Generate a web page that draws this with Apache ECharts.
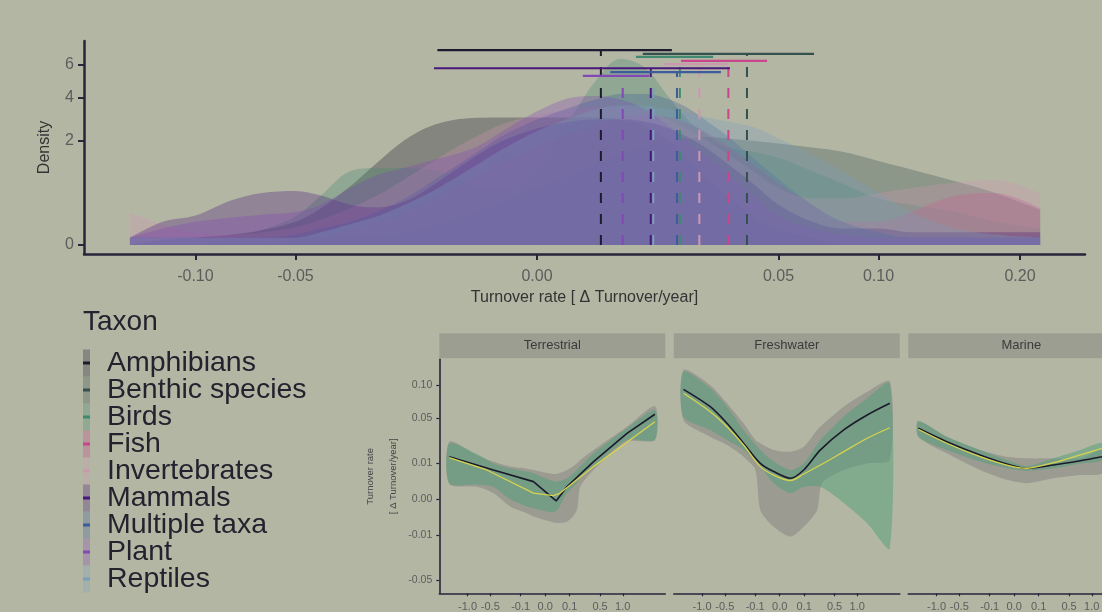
<!DOCTYPE html>
<html><head><meta charset="utf-8">
<script src="https://cdn.jsdelivr.net/npm/echarts@6.0.0/dist/echarts.min.js"></script>
<style>html,body{margin:0;padding:0;background:#b4b6a4}#c{width:1102px;height:612px}</style>
</head><body><div id="c"></div><script>
// ---------- data ----------
const taxa = ['Amphibians','Benthic species','Birds','Fish','Invertebrates','Mammals','Multiple taxa','Plant','Reptiles'];
const taxonColors = ['#1e1b2e','#34514f','#3f8a6e','#c8468a','#cc98b0','#48187a','#3d5c9c','#8248b4','#7a9ebc'];

// density curves (turnover rate grid, density values)
const densX = [-0.142,-0.12,-0.10,-0.08,-0.065,-0.05,-0.04,-0.03,-0.022,-0.015,-0.01,-0.006,-0.003,-0.001,0,0.001,0.003,0.006,0.01,0.015,0.02,0.025,0.03,0.04,0.05,0.065,0.08,0.10,0.12,0.15,0.18,0.217];
const densAmphibians = [0,0.005,0.01,0.02,0.04,0.1,0.25,0.63,1.24,2.03,2.58,2.88,2.98,3.0,3.0,3.0,3.0,2.9,2.6,2.0,1.3,0.8,0.5,0.15,0.05,0.01,0,0,0,0,0,0];
const densBenthic    = [0,0,0,0,0,0.005,0.01,0.01,0.01,0.03,0.06,0.12,0.2,0.35,0.6,0.9,1.2,1.5,1.8,2.0,2.1,2.15,2.1,2.0,1.9,1.75,1.6,1.3,1.05,0.75,0.5,0.23];
const densBirds      = [0,0,0,0.01,0.04,0.15,0.45,1.0,1.09,1.09,1.05,0.9,0.6,0.55,1.2,3.0,5.0,6.4,5.8,4.0,2.8,2.2,1.8,1.6,1.4,1.0,0.7,0.4,0.3,0.2,0.1,0.05];
const densFish       = [0.01,0.01,0.01,0.01,0.01,0.01,0.01,0.05,0.1,0.2,0.35,0.6,0.9,1.3,1.8,2.3,2.7,3.0,3.1,3.0,2.7,2.3,1.9,1.2,0.7,0.3,0.1,0.1,0.2,0.45,0.5,0.25];
const densInvert     = [0.19,0.08,0.03,0.02,0.03,0.06,0.12,0.25,0.45,0.8,1.2,1.7,2.2,2.7,3.1,3.4,3.5,3.5,3.3,2.9,2.4,2.0,1.6,1.0,0.6,0.4,0.4,0.5,0.6,0.72,0.78,0.5];
const densMammals    = [0.01,0.1,0.16,0.37,0.5,0.54,0.45,0.3,0.26,0.35,0.6,1.0,1.5,2.0,2.5,2.8,2.9,2.9,2.8,2.5,2.1,1.7,1.3,0.7,0.3,0.1,0.05,0.05,0.03,0.03,0.03,0.03];
const densMultiple   = [0.01,0.01,0.01,0.01,0.01,0.02,0.05,0.1,0.2,0.4,0.7,1.1,1.6,2.2,2.9,3.5,3.9,4.2,4.2,3.9,3.4,2.8,2.3,1.4,0.8,0.3,0.1,0.03,0.01,0.01,0.01,0.01];
const densPlant      = [0.01,0.05,0.1,0.14,0.17,0.2,0.3,0.6,0.9,1.1,1.3,1.5,1.8,2.4,3.3,4.0,4.1,3.9,3.4,2.6,1.9,1.4,1.0,0.45,0.15,0.05,0.02,0.01,0.01,0.01,0.01,0.01];
const densReptiles   = [0.01,0.01,0.01,0.01,0.01,0.01,0.03,0.08,0.15,0.3,0.5,0.8,1.2,1.7,2.4,3.0,3.4,3.6,3.6,3.4,3.2,3.0,2.85,2.57,2.1,1.5,1.0,0.5,0.2,0.05,0.02,0.01];
const densities = [densAmphibians,densBenthic,densBirds,densFish,densInvert,densMammals,densMultiple,densPlant,densReptiles];

// medians and intervals (turnover rate); level = density height of interval bar
const medians = [0.0035,0.0378,0.0175,0.0314,0.0226,0.0111,0.0168,0.0063,0.0116];
const ciLower = [-0.0085,0.0096,0.0084,0.0178,0.0138,-0.0091,0.0046,0.0018,null];
const ciUpper = [0.0156,0.0658,0.0266,0.0454,0.0313,0.0319,0.0290,0.0108,null];
const ciLevel = [7.0,6.73,6.52,6.25,6.03,5.76,5.51,5.27,5.0];

const topXTicks = [-0.10,-0.05,0,0.05,0.10,0.20];
const topYTicks = [0,2,4,6];

// facets
const facetNames = ['Terrestrial','Freshwater','Marine'];
const facetXTicks = [-1.0,-0.5,-0.1,0,0.1,0.5,1.0];
const facetYTicks = [-0.05,-0.01,0,0.01,0.05,0.10];

const terrX       = [-1.525,-0.776,-0.445,-0.204,-0.0557,-0.0228,0.0166,0.0784,0.167,0.204,0.389,1.111,2.0];
const terrGreyHi  = [0.0255,0.0151,0.0109,0.0082,0.0072,0.0066,0.0049,0.0066,0.0099,0.0119,0.0187,0.0404,0.0668];
const terrGreyLo  = [0.0018,0.0012,0.0003,-0.0004,-0.0015,-0.0023,-0.0042,-0.0039,-0.0009,0.0012,0.0066,0.0255,0.027];
const terrGreenHi = [0.0241,0.0157,0.0099,0.0074,0.0059,0.0052,0.0024,0.0034,0.0066,0.0082,0.0162,0.0387,0.0612];
const terrGreenLo = [0.0020,0.0016,0.0012,0.0000,-0.0004,-0.0006,-0.0012,0.0003,0.0020,0.0039,0.0082,0.027,0.027];
const terrMeanX   = [-1.525,-0.445,-0.0228,0.0201,0.0784,0.389,1.111,2.0];
const terrMean    = [0.0139,0.0066,0.0024,-0.00002,0.0012,0.0109,0.0334,0.0555];
const terrFitX    = [-1.525,-0.566,-0.0228,0.0115,0.0375,0.389,2.0];
const terrFit     = [0.0133,0.0066,0.0003,0.0001,0.0003,0.0082,0.0462];

const fwX       = [-1.535,-0.8,-0.461,-0.216,-0.062,-0.006,0.019,0.096,0.276,0.682,1.272,2.015];
const fwMean    = [0.0928,0.0658,0.0443,0.0241,0.0099,0.0059,0.0034,0.0066,0.0187,0.0369,0.0545,0.0707];
const fwFit     = [0.0862,0.0589,0.0404,0.0226,0.0082,0.0045,0.0027,0.0049,0.009,0.0174,0.0286,0.0393];
const fwGreenHi = [0.125,0.0945,0.0658,0.0369,0.0187,0.0109,0.0066,0.0099,0.027,0.0524,0.0783,0.1032];
const fwGreenLo = [0.0524,0.0369,0.027,0.0187,0.0082,0.002,0.0003,0.0012,0.0012,-0.0001,-0.0044,-0.0184];
const fwGreyX   = [-1.535,-0.8,-0.461,-0.216,-0.098,-0.062,-0.006,0.019,0.096,0.233,0.299,0.682,1.272,2.015];
const fwGreyHi  = [0.1283,0.1002,0.0707,0.0443,0.027,0.0241,0.0187,0.0174,0.0212,0.0369,0.0424,0.0658,0.0888,0.1061];
const fwGreyLo  = [0.0483,0.0301,0.0226,0.0139,0.0066,-0.0009,-0.0058,-0.0107,-0.0058,-0.0009,0.002,0.0066,0.0099,0.0119];

const mX       = [-1.525,-0.754,-0.193,-0.0089,0.0269,0.257,0.725,1.289];
const mMean    = [0.0387,0.0255,0.0151,0.0096,0.0074,0.009,0.0114,0.0139];
const mFit     = [0.0376,0.0241,0.0139,0.009,0.0074,0.0103,0.0151,0.02];
const mGreenHi = [0.047,0.0301,0.0187,0.0119,0.0085,0.0129,0.0187,0.0241];
const mGreenLo = [0.0301,0.0187,0.0109,0.0074,0.0063,0.0074,0.0099,0.0119];
const mGreyHi  = [0.047,0.0301,0.0187,0.0139,0.0129,0.0129,0.0129,0.0187];
const mGreyLo  = [0.0301,0.0162,0.0066,0.0029,0.002,0.0034,0.0045,0.0052];

// ---------- helpers ----------
const ssqrt = v => Math.sign(v) * Math.sqrt(Math.abs(v));
const inv = t => Math.sign(t) * t * t;
function hexA(h, a) {
  const n = parseInt(h.slice(1), 16);
  return 'rgba(' + (n >> 16 & 255) + ',' + (n >> 8 & 255) + ',' + (n & 255) + ',' + a + ')';
}
const FONT = 'Liberation Sans, Arial, Helvetica, sans-serif';
const AXIS = '#27253a';
const LABEL = '#5c5c5c';

const chart = echarts.init(document.getElementById('c'), null, {renderer: 'canvas'});

const facetLeft = [439.3, 673.8, 908.3];
const grids = [{left: 84, right: 17, top: 41, bottom: 358, outerBoundsMode: 'none'}];
facetLeft.forEach(l => grids.push({left: l, width: 226, top: 359.3, height: 234, outerBoundsMode: 'none'}));

const xAxes = [{
  type: 'value', gridIndex: 0, min: -0.4194, max: 0.5074,
  axisLine: {show: true, onZero: false, lineStyle: {color: AXIS, width: 2.5}},
  axisTick: {show: true, customValues: topXTicks.map(ssqrt), length: 6, lineStyle: {color: AXIS, width: 2}},
  axisLabel: {customValues: topXTicks.map(ssqrt), formatter: v => inv(v).toFixed(2), fontSize: 16, color: LABEL, margin: 15, fontFamily: FONT},
  splitLine: {show: false},
  name: 'Turnover rate [ \u0394 Turnover/year]', nameLocation: 'middle', nameGap: 36,
  nameTextStyle: {fontSize: 16, color: '#333', fontFamily: FONT}
}];
const yAxes = [{
  type: 'value', gridIndex: 0, min: -0.122, max: 2.77,
  axisLine: {show: true, onZero: false, lineStyle: {color: AXIS, width: 2.5}},
  axisTick: {show: true, customValues: topYTicks.map(Math.sqrt), length: 6, lineStyle: {color: AXIS, width: 2}},
  axisLabel: {customValues: topYTicks.map(Math.sqrt), formatter: v => String(Math.round(v * v)), fontSize: 16, color: LABEL, margin: 10, fontFamily: FONT},
  splitLine: {show: false},
  name: 'Density', nameLocation: 'middle', nameGap: 31, nameRotate: 90,
  nameTextStyle: {fontSize: 16, color: '#333', fontFamily: FONT}
}];
for (let i = 0; i < 3; i++) {
  xAxes.push({
    type: 'value', gridIndex: i + 1, min: -1.364, max: 1.548,
    axisLine: {show: true, onZero: false, lineStyle: {color: AXIS, width: 1.6}},
    axisTick: {show: true, customValues: facetXTicks.map(ssqrt), length: 3, lineStyle: {color: AXIS, width: 1.2}},
    axisLabel: {customValues: facetXTicks.map(ssqrt), formatter: v => inv(v).toFixed(1), fontSize: 11, color: LABEL, margin: 8, fontFamily: FONT},
    splitLine: {show: false}
  });
  yAxes.push({
    type: 'value', gridIndex: i + 1, min: -0.2604, max: 0.3878,
    axisLine: {show: i === 0, onZero: false, lineStyle: {color: AXIS, width: 1.6}},
    axisTick: {show: i === 0, customValues: facetYTicks.map(ssqrt), length: 3, lineStyle: {color: AXIS, width: 1.2}},
    axisLabel: {show: i === 0, customValues: facetYTicks.map(ssqrt), formatter: v => inv(v).toFixed(2), fontSize: 10.5, color: LABEL, margin: 7, fontFamily: FONT},
    splitLine: {show: false},
    name: i === 0 ? 'Turnover rate\n[ \u0394 Turnover/year]' : '', nameLocation: 'middle', nameGap: 32, nameRotate: 90,
    nameTextStyle: {fontSize: 9.5, lineHeight: 23, color: '#444', fontFamily: FONT}
  });
}

const series = [];
// densities
taxa.forEach((name, i) => {
  series.push({
    name: name, type: 'line', xAxisIndex: 0, yAxisIndex: 0, z: 2,
    data: densX.map((x, k) => [ssqrt(x), Math.sqrt(densities[i][k])]),
    smooth: 0.35, symbol: 'none', showSymbol: false, silent: true,
    lineStyle: {width: 0, color: taxonColors[i]},
    itemStyle: {color: taxonColors[i]},
    areaStyle: {color: taxonColors[i], opacity: 0.31}
  });
});
// intervals and medians
taxa.forEach((name, i) => {
  if (ciLower[i] !== null) {
    series.push({
      type: 'line', xAxisIndex: 0, yAxisIndex: 0, z: 5, silent: true, symbol: 'none',
      data: [[ssqrt(ciLower[i]), Math.sqrt(ciLevel[i])], [ssqrt(ciUpper[i]), Math.sqrt(ciLevel[i])]],
      lineStyle: {color: taxonColors[i], width: 2.2}
    });
  }
  series.push({
    type: 'line', xAxisIndex: 0, yAxisIndex: 0, z: 5, silent: true, symbol: 'none',
    data: [[ssqrt(medians[i]), 0], [ssqrt(medians[i]), Math.sqrt(ciLevel[i])]],
    lineStyle: {color: taxonColors[i], width: 2, type: [10, 11], dashOffset: 0}
  });
});

function bandSeries(gi, xs, lo, hi, fill) {
  return {
    type: 'custom', xAxisIndex: gi, yAxisIndex: gi, silent: true, clip: true, z: 2,
    data: xs.map((x, i) => [ssqrt(x), ssqrt(lo[i]), ssqrt(hi[i])]),
    encode: {x: 0, y: [1, 2]},
    renderItem: function (params, api) {
      if (params.dataIndex !== 0) return;
      const pts = [];
      for (let i = 0; i < xs.length; i++) pts.push(api.coord([ssqrt(xs[i]), ssqrt(hi[i])]));
      for (let i = xs.length - 1; i >= 0; i--) pts.push(api.coord([ssqrt(xs[i]), ssqrt(lo[i])]));
      return {type: 'polygon', shape: {points: pts, smooth: 0.25}, style: {fill: fill}};
    }
  };
}
function curveSeries(gi, xs, ys, color, width, z, smooth) {
  return {
    type: 'line', xAxisIndex: gi, yAxisIndex: gi, z: z, silent: true, symbol: 'none', smooth: smooth,
    data: xs.map((x, i) => [ssqrt(x), ssqrt(ys[i])]),
    lineStyle: {color: color, width: width}
  };
}
const GREY = 'rgba(150,150,143,0.85)';
const GREEN = 'rgba(80,160,120,0.5)';
const MEAN = '#1b1a2b';
const FIT = '#d6d24e';
series.push(bandSeries(1, terrX, terrGreyLo, terrGreyHi, GREY));
series.push(bandSeries(1, terrX, terrGreenLo, terrGreenHi, GREEN));
series.push(curveSeries(1, terrMeanX, terrMean, MEAN, 1.6, 4, 0));
series.push(curveSeries(1, terrFitX, terrFit, FIT, 1.3, 5, 0));
series.push(bandSeries(2, fwGreyX, fwGreyLo, fwGreyHi, GREY));
series.push(bandSeries(2, fwX, fwGreenLo, fwGreenHi, GREEN));
series.push(curveSeries(2, fwX, fwMean, MEAN, 1.6, 4, 0.3));
series.push(curveSeries(2, fwX, fwFit, FIT, 1.3, 5, 0.3));
series.push(bandSeries(3, mX, mGreyLo, mGreyHi, GREY));
series.push(bandSeries(3, mX, mGreenLo, mGreenHi, GREEN));
series.push(curveSeries(3, mX, mMean, MEAN, 1.6, 4, 0.3));
series.push(curveSeries(3, mX, mFit, FIT, 1.3, 5, 0.3));

const graphics = facetNames.map((n, i) => ({
  type: 'group', x: facetLeft[i], y: 333.3, silent: true,
  children: [
    {type: 'rect', shape: {x: 0, y: 0, width: 226, height: 25}, style: {fill: '#9d9e92'}},
    {type: 'text', style: {text: n, x: 113, y: 12.5, align: 'center', verticalAlign: 'middle', fontSize: 13, fontFamily: FONT, fill: '#3b3b3b'}}
  ]
}));

const legendText = {fontSize: 28.5, lineHeight: 27, fontFamily: FONT, color: '#24222e', padding: [0, 0, 0, 12]};
chart.setOption({
  backgroundColor: '#b4b6a4',
  animation: false,
  title: {text: 'Taxon', left: 78, top: 303, padding: 5, textStyle: {fontSize: 28, fontWeight: 'normal', color: '#24222e', fontFamily: FONT}},
  legend: [
    {orient: 'vertical', left: 83, top: 348.5, padding: 0, itemGap: -2, itemWidth: 7, itemHeight: 27, icon: 'rect', selectedMode: false,
     textStyle: legendText,
     data: taxa.map((n, i) => ({name: n, itemStyle: {color: hexA(taxonColors[i], 0.3), borderWidth: 0}}))},
    {orient: 'vertical', left: 83, top: 348.5, padding: 0, itemGap: -2, itemWidth: 7, itemHeight: 3, icon: 'rect', selectedMode: false,
     textStyle: Object.assign({}, legendText, {color: 'rgba(0,0,0,0)'}),
     data: taxa.map((n, i) => ({name: n, itemStyle: {color: taxonColors[i], borderWidth: 0}}))}
  ],
  grid: grids,
  xAxis: xAxes,
  yAxis: yAxes,
  series: series,
  graphic: graphics
});
</script></body></html>
